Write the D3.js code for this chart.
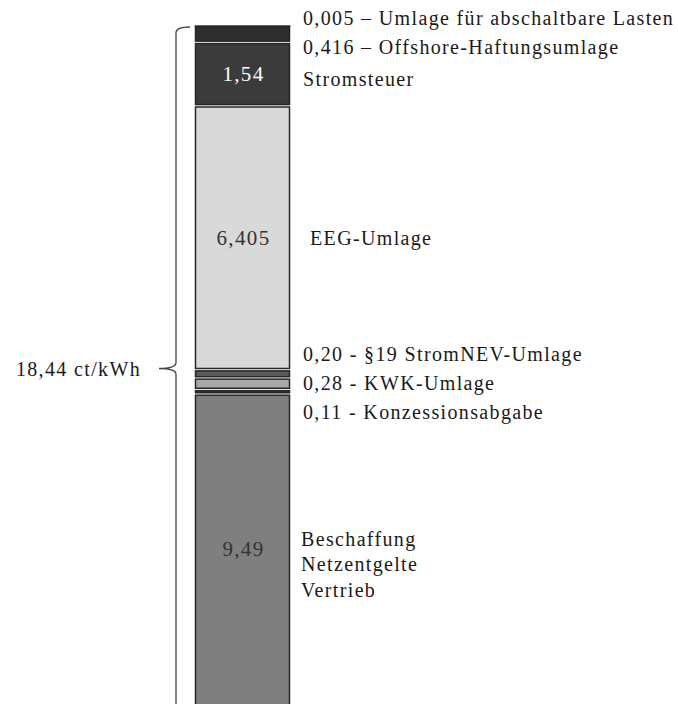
<!DOCTYPE html>
<html>
<head>
<meta charset="utf-8">
<script src="https://cdn.jsdelivr.net/npm/d3@7"></script>
<style>
  html, body { margin: 0; padding: 0; background: #fff; overflow: hidden; }
  svg { display: block; }
  text { font-family: "Liberation Serif", "DejaVu Serif", serif; fill: #1a1a1a; letter-spacing: 1.35px; }
</style>
</head>
<body>
<div id="chart"></div>
<script>
// ---- data (top of the bar first) ----
const category = "Strompreis";
const segmentNames = [
  "Umlage für abschaltbare Lasten",
  "Offshore-Haftungsumlage",
  "Stromsteuer",
  "EEG-Umlage",
  "§19 StromNEV-Umlage",
  "KWK-Umlage",
  "Konzessionsabgabe",
  "Beschaffung Netzentgelte Vertrieb"
];
const segmentValues = [0.005, 0.416, 1.54, 6.405, 0.20, 0.28, 0.11, 9.49];
const valueLabels = ["0,005", "0,416", "1,54", "6,405", "0,20", "0,28", "0,11", "9,49"];
const sideLabels = [
  ["0,005 – Umlage für abschaltbare Lasten"],
  ["0,416 – Offshore-Haftungsumlage"],
  ["Stromsteuer"],
  ["EEG-Umlage"],
  ["0,20 - §19 StromNEV-Umlage"],
  ["0,28 - KWK-Umlage"],
  ["0,11 - Konzessionsabgabe"],
  ["Beschaffung", "Netzentgelte", "Vertrieb"]
];
const insideLabelIdx = [2, 3, 7];   // segments with their value written inside
const totalLabel = "18,44 ct/kWh";

// ---- styles ----
const fills = ["#2e2e2e", "#2e2e2e", "#3b3b3b", "#d9d9d9", "#5a5a5a", "#a8a8a8", "#333333", "#7f7f7f"];
const insideColors = { 2: "#ffffff", 3: "#333333", 7: "#333333" };

const W = 678, H = 704;
const svg = d3.select("#chart").append("svg").attr("width", W).attr("height", H);

const total = d3.sum(segmentValues);
const pxPerUnit = 41.2;
const yTop = 25;
const y = d3.scaleLinear().domain([0, total]).range([yTop, yTop + total * pxPerUnit]);
const x = d3.scaleBand().domain([category]).range([195.5, 289.5]).paddingInner(0).paddingOuter(0);

let acc = 0;
const segs = segmentValues.map((v, i) => {
  const s = { i, v, y0: acc, y1: acc + v };
  acc += v;
  return s;
});

const gap = 2.4;
svg.append("g").selectAll("rect").data(segs).join("rect")
  .attr("x", x(category))
  .attr("width", x.bandwidth())
  .attr("y", d => y(d.y0) + gap / 2)
  .attr("height", d => Math.max(y(d.y1) - y(d.y0) - gap, 0.6))
  .attr("fill", d => fills[d.i])
  .attr("stroke", "#262626")
  .attr("stroke-width", 1.5);

// inside value labels (centre of the visible part)
svg.append("g").selectAll("text").data(segs.filter(d => insideLabelIdx.includes(d.i))).join("text")
  .attr("x", x(category) + x.bandwidth() / 2 + 1)
  .attr("y", d => (y(d.y0) + Math.min(y(d.y1), H)) / 2)
  .attr("dy", "0.35em")
  .attr("text-anchor", "middle")
  .attr("font-size", 21)
  .style("fill", d => insideColors[d.i])
  .text(d => valueLabels[d.i]);

// side labels: dodge overlapping labels into evenly spaced clusters
const spacing = 29;
const centers = segs.map(d => (y(d.y0) + Math.min(y(d.y1), H)) / 2);
let clusters = centers.slice(0, 7).map((c, i) => ({ idx: [i], mean: c }));
let changed = true;
function pos(cl) { return cl.idx.map((_, k) => cl.mean + (k - (cl.idx.length - 1) / 2) * spacing); }
while (changed) {
  changed = false;
  for (let k = 0; k < clusters.length - 1; k++) {
    const a = pos(clusters[k]), b = pos(clusters[k + 1]);
    if (b[0] - a[a.length - 1] < spacing) {
      const idx = clusters[k].idx.concat(clusters[k + 1].idx);
      const mean = d3.mean(idx, j => centers[j]);
      clusters.splice(k, 2, { idx, mean });
      changed = true;
      break;
    }
  }
}
const labelY = [];
clusters.forEach(cl => {
  const p = pos(cl);
  const shift = Math.max(0, 18 - p[0]);
  cl.idx.forEach((j, k) => labelY[j] = p[k] + shift);
});
labelY[2] += 5;
labelY[7] = centers[7] - 10;

const lg = svg.append("g");
segs.forEach(d => {
  const lx = d.i === 3 ? 310 : (d.i === 7 ? 301 : 303);
  const lines = sideLabels[d.i];
  const t = lg.append("text").attr("x", lx).attr("y", labelY[d.i]).attr("font-size", 20);
  lines.forEach((ln, k) => {
    t.append("tspan").attr("x", lx)
      .attr("y", labelY[d.i] + k * 25.5).attr("dy", "0.35em").text(ln);
  });
});

// brace spanning the whole bar
const bTop = y(0) + 2, bBot = H + 6, bMid = (bTop + bBot) / 2;
const bx = 176, hook = 14;
svg.append("path")
  .attr("d", `M${bx + hook},${bTop} Q${bx},${bTop} ${bx},${bTop + 6} L${bx},${bMid - 6} Q${bx},${bMid} ${bx - 17},${bMid} Q${bx},${bMid} ${bx},${bMid + 6} L${bx},${bBot - 6} Q${bx},${bBot} ${bx + hook},${bBot}`)
  .attr("fill", "none").attr("stroke", "#444").attr("stroke-width", 1.3);

svg.append("text")
  .attr("x", 141).attr("y", bMid).attr("dy", "0.35em")
  .attr("text-anchor", "end").attr("font-size", 20)
  .text(totalLabel);
</script>
</body>
</html>
